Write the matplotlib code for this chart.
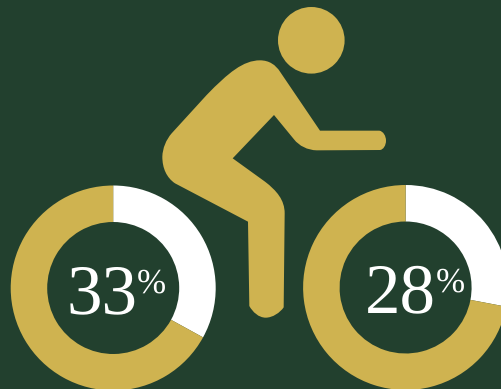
import matplotlib
matplotlib.use('Agg')
import matplotlib.pyplot as plt
from matplotlib.patches import Circle, PathPatch
from matplotlib.path import Path

plt.rcParams['text.hinting'] = 'none'
plt.rcParams['text.hinting_factor'] = 1

# share of each wheel, in percent
labels = ['33', '28']
values = [33, 28]

bg = '#22402E'
gold = '#CFB350'
W, H = 502, 389

fig = plt.figure(figsize=(W / 100, H / 100), dpi=100, facecolor=bg)
ax = fig.add_axes([0, 0, 1, 1])
ax.set_facecolor(bg)

# wheel centres and text anchors, in pixels from the top left
centers = [(113.2, 288.0), (405.6, 287.5)]
num_pos = [(102.0, 313.0), (400.6, 312.3)]
pct_pos = [(151.5, 292.7), (450.2, 291.7)]
R = 102.5
r_in = 66.0

for v, c in zip(values, centers):
    ax.pie([v, 100 - v], colors=['white', gold], startangle=90, counterclock=False,
           radius=R, center=(c[0], H - c[1]),
           wedgeprops=dict(width=R - r_in, linewidth=0))

for lab, p, q in zip(labels, num_pos, pct_pos):
    ax.text(p[0], H - p[1], lab, color='white', family='Liberation Serif', fontsize=51,
            ha='center', va='baseline')
    ax.text(q[0], H - q[1], '%', color='white', family='Liberation Serif', fontsize=25.5,
            ha='center', va='baseline')


# rider outline helpers: turn icon points into figure pixels
def pt(x, y):
    return (150 + x / 3, H - y / 3)


verts = [pt(330, 181)]
codes = [Path.MOVETO]


def line(x, y):
    verts.append(pt(x, y))
    codes.append(Path.LINETO)


def curve(x1, y1, x2, y2, x3, y3):
    verts.extend([pt(x1, y1), pt(x2, y2), pt(x3, y3)])
    codes.extend([Path.CURVE4] * 3)


curve(358, 181, 377, 195, 390, 215)
line(510, 392)
line(688, 392)
curve(700, 394, 708, 408, 708, 422)
curve(708, 436, 700, 449, 690, 450)
line(500, 451)
curve(472, 450, 448, 438, 432, 418)
line(372, 345)
line(248, 475)
line(345, 545)
curve(380, 572, 404, 600, 404, 640)
line(401, 922)
curve(390, 938, 368, 953, 347, 953)
curve(326, 953, 308, 936, 298, 918)
line(294, 665)
line(75, 550)
curve(50, 533, 37, 505, 37, 470)
curve(38, 444, 48, 420, 65, 400)
line(170, 285)
curve(235, 218, 280, 181, 330, 181)
codes.append(Path.CLOSEPOLY)
verts.append(verts[0])

ax.add_patch(PathPatch(Path(verts, codes), facecolor=gold, edgecolor='none'))
ax.add_patch(Circle((311.3, H - 40.3), 33.3, facecolor=gold, edgecolor='none'))

ax.set_xlim(0, W)
ax.set_ylim(0, H)
ax.set_axis_off()

fig.savefig('out.png', dpi=100, facecolor=bg)
